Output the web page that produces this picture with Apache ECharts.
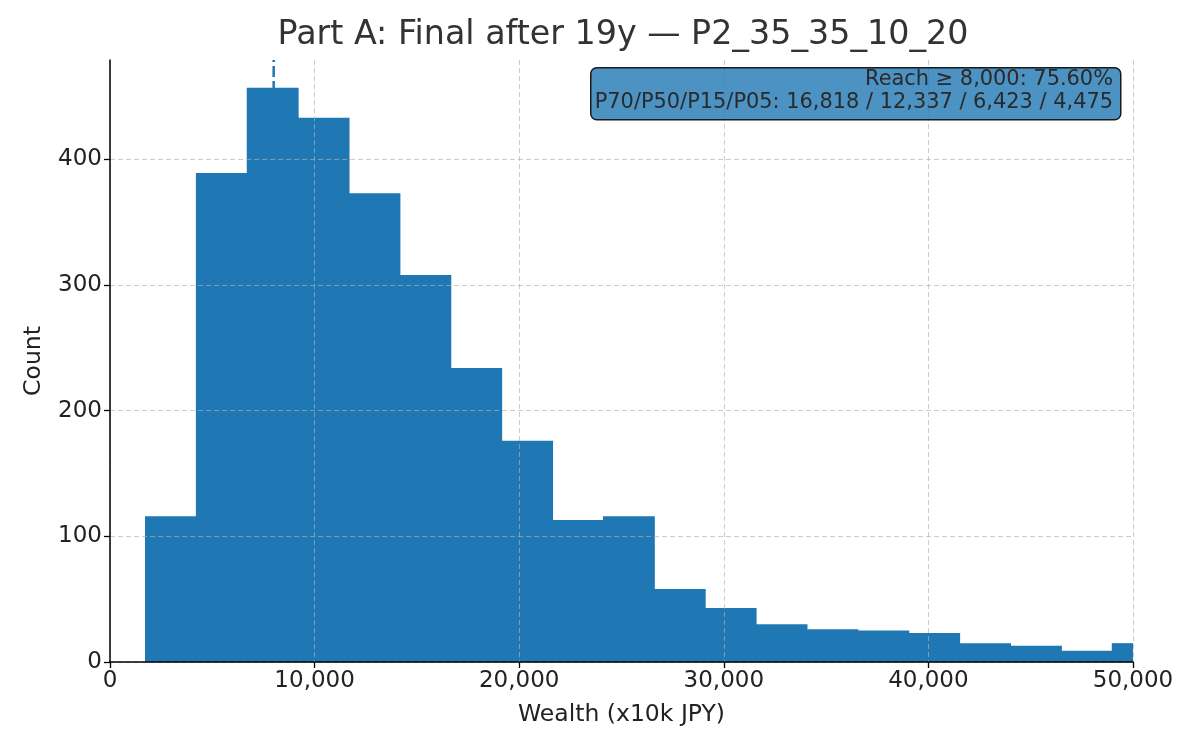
<!DOCTYPE html>
<html>
<head>
<meta charset="utf-8">
<script src="https://cdn.jsdelivr.net/npm/echarts@6/dist/echarts.min.js"></script>
<style>
html,body{margin:0;padding:0;background:#fff;}
#chart{width:1200px;height:750px;}
</style>
</head>
<body>
<div id="chart"></div>
<script>
// ---- data ----
const titleText = 'Part A: Final after 19y \u2014 P2_35_35_10_20';
const binEdges = [1710, 4197, 6684, 9171, 11658, 14145, 16632, 19119, 21606, 24093, 26580,
                  29067, 31554, 34041, 36528, 39015, 41502, 43989, 46476, 48963, 51450];
const counts = [116, 389, 457, 433, 373, 308, 234, 176, 113, 116, 58, 43, 30, 26, 25, 23, 15, 13, 9, 15];
const threshold = 8000;
const xTicks = [0, 10000, 20000, 30000, 40000, 50000];
const yTicks = [0, 100, 200, 300, 400];
const annotLines = ['Reach \u2265 8,000: 75.60%', 'P70/P50/P15/P05: 16,818 / 12,337 / 6,423 / 4,475'];
const xRange = [0, 50000];
const yRange = [0, 479];

const histData = counts.map((c, i) => [binEdges[i], binEdges[i + 1], c]);
const FONT = 'DejaVu Sans';
const fmt = v => v.toLocaleString('en-US');

const chart = echarts.init(document.getElementById('chart'), null, {renderer: 'canvas'});
chart.setOption({
  animation: false,
  backgroundColor: '#ffffff',
  title: {
    text: titleText, left: 618, top: 14, textAlign: 'center',
    textStyle: {fontFamily: FONT, fontSize: 33.3, fontWeight: 'normal', color: '#333333'}
  },
  grid: {left: 110, right: 67, top: 60, bottom: 88, containLabel: false},
  xAxis: {
    type: 'value', min: xRange[0], max: xRange[1], interval: 10000, z: 5,
    name: 'Wealth (x10k JPY)', nameLocation: 'middle', nameGap: 41,
    nameTextStyle: {fontFamily: FONT, fontSize: 23.5, color: '#222'},
    axisLine: {show: true, onZero: false, lineStyle: {color: '#000', width: 1.5}},
    axisTick: {show: true, length: 6, lineStyle: {color: '#000', width: 1.3}},
    axisLabel: {fontFamily: FONT, fontSize: 23, color: '#222', margin: 8,
      formatter: v => xTicks.includes(v) ? fmt(v) : ''},
    splitLine: {show: true, lineStyle: {color: 'rgba(176,176,176,0.65)', type: [5, 3], width: 1}}
  },
  yAxis: {
    type: 'value', min: yRange[0], max: yRange[1], interval: 100, z: 5,
    name: 'Count', nameLocation: 'middle', nameGap: 64, nameRotate: 90,
    nameTextStyle: {fontFamily: FONT, fontSize: 23.5, color: '#222'},
    axisLine: {show: true, lineStyle: {color: '#000', width: 1.5}},
    axisTick: {show: true, length: 6, lineStyle: {color: '#000', width: 1.3}},
    axisLabel: {fontFamily: FONT, fontSize: 23, color: '#222', margin: 8, showMaxLabel: false,
      formatter: v => yTicks.includes(v) ? String(v) : ''},
    splitLine: {show: true, showMaxLine: false, lineStyle: {color: 'rgba(176,176,176,0.65)', type: [5, 3], width: 1}}
  },
  series: [
    {
      type: 'line', z: 1, silent: true, symbol: 'none',
      data: [[threshold, yRange[0]], [threshold, yRange[1]]],
      lineStyle: {color: '#1f77b4', width: 2.5, type: [11, 4]}
    },
    {
      type: 'custom', z: 2, silent: true,
      data: histData,
      encode: {x: [0, 1], y: 2},
      renderItem: function (params, api) {
        const p0 = api.coord([api.value(0), api.value(2)]);
        const p1 = api.coord([api.value(1), 0]);
        const cs = params.coordSys;
        const shape = echarts.graphic.clipRectByRect(
          {x: p0[0], y: p0[1], width: p1[0] - p0[0] + 1, height: p1[1] - p0[1]},
          {x: cs.x, y: cs.y, width: cs.width, height: cs.height}
        );
        return shape && {type: 'rect', shape: shape, style: {fill: '#1f77b4'}};
      }
    }
  ],
  graphic: [
    {
      type: 'rect', z: 100, left: 590, top: 67,
      shape: {width: 530, height: 52, r: 6},
      style: {fill: 'rgba(31,119,180,0.8)', stroke: '#1a1a1a', lineWidth: 1.5}
    },
    {
      type: 'text', z: 101, x: 1113, y: 79.5,
      style: {text: annotLines[0], font: '20.9px "DejaVu Sans"', fill: '#2a2a2a', textAlign: 'right', textVerticalAlign: 'middle'}
    },
    {
      type: 'text', z: 101, x: 1113, y: 102.5,
      style: {text: annotLines[1], font: '20.9px "DejaVu Sans"', fill: '#2a2a2a', textAlign: 'right', textVerticalAlign: 'middle'}
    }
  ]
});
</script>
</body>
</html>
